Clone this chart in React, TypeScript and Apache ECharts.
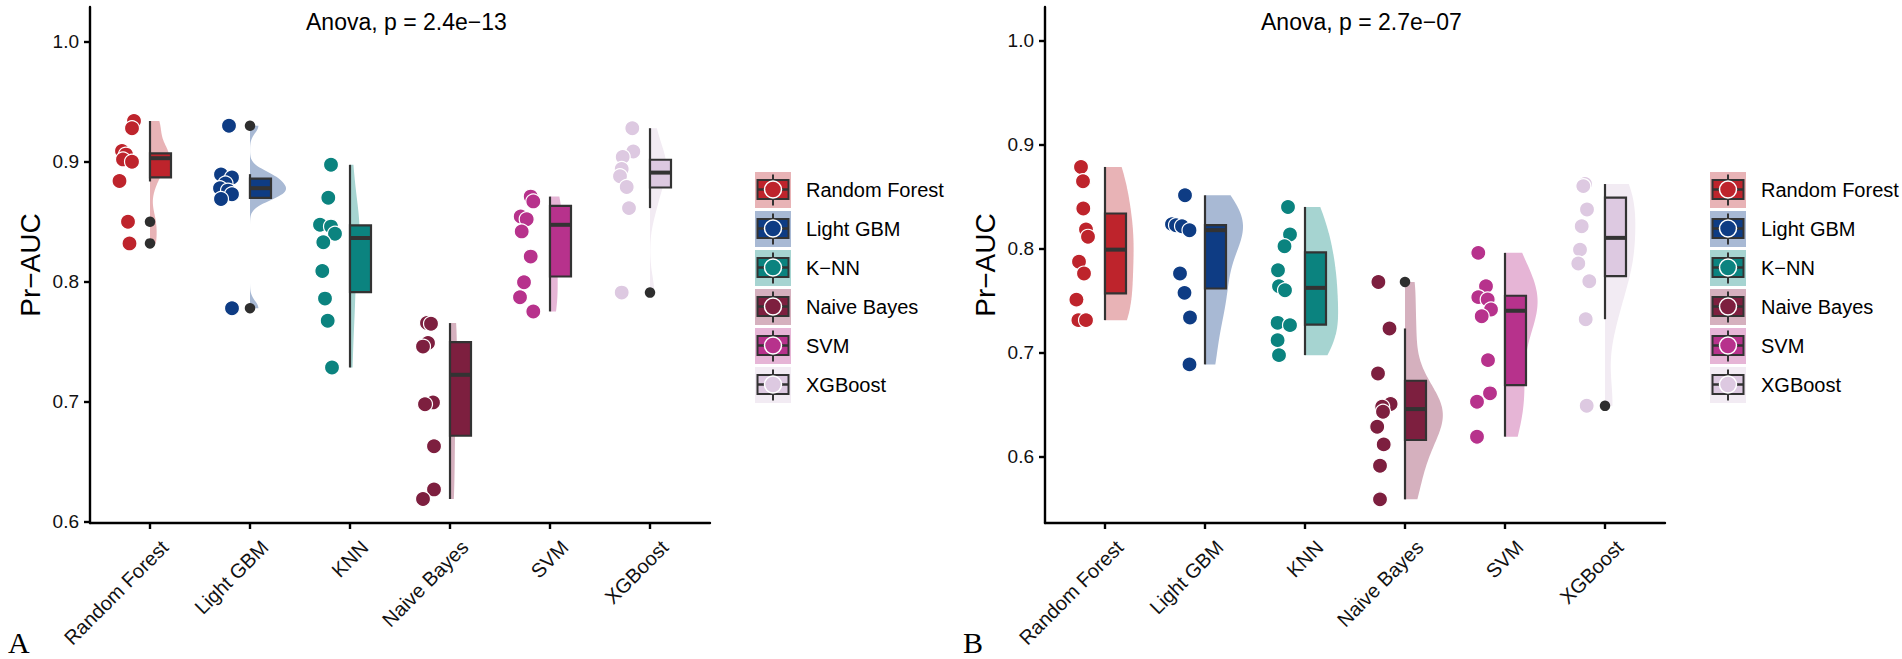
import { useEffect, useRef } from 'react';
import * as echarts from 'echarts';

const FONT = "'Liberation Sans', Arial, Helvetica, sans-serif";
const SERIF = "'Liberation Serif', 'Times New Roman', serif";

const categories = ['Random Forest', 'Light GBM', 'KNN', 'Naive Bayes', 'SVM', 'XGBoost'];
const legendNames = ['Random Forest', 'Light GBM', 'K−NN', 'Naive Bayes', 'SVM', 'XGBoost'];
const pointColors = ['#BE242C', '#0E3C84', '#0B837F', '#7D1F3F', '#B7328C', '#DDC9E1'];
const violinColors = ['#E8B3B6', '#A8B9D4', '#A6D4D1', '#D5B0BE', '#E6B5D6', '#F2EBF3'];
const xTicks = [1, 2, 3, 4, 5, 6];
const yTicks = [0.6, 0.7, 0.8, 0.9, 1.0];
const anovaLabels = ['Anova, p = 2.4e−13', 'Anova, p = 2.7e−07'];
const panelLetters = ['A', 'B'];

// points: [Pr-AUC, horizontal jitter in category units]
// panel A
const rfA = [[0.934, -0.16], [0.928, -0.18], [0.909, -0.28], [0.906, -0.24], [0.902, -0.27], [0.9, -0.18], [0.884, -0.305], [0.85, -0.22], [0.832, -0.205]];
const lgbmA = [[0.93, -0.21], [0.8895, -0.29], [0.887, -0.18], [0.882, -0.245], [0.878, -0.3], [0.876, -0.22], [0.873, -0.18], [0.869, -0.29], [0.778, -0.18]];
const knnA = [[0.8975, -0.19], [0.87, -0.217], [0.8475, -0.3], [0.846, -0.19], [0.84, -0.15], [0.833, -0.267], [0.809, -0.277], [0.786, -0.25], [0.7675, -0.223], [0.7286, -0.18]];
const nbA = [[0.7656, -0.23], [0.765, -0.19], [0.749, -0.22], [0.746, -0.27], [0.6995, -0.17], [0.698, -0.25], [0.663, -0.16], [0.627, -0.16], [0.619, -0.27]];
const svmA = [[0.871, -0.193], [0.867, -0.167], [0.8544, -0.293], [0.8522, -0.233], [0.842, -0.283], [0.821, -0.193], [0.7997, -0.26], [0.7872, -0.3], [0.7753, -0.167]];
const xgbA = [[0.928, -0.177], [0.9086, -0.167], [0.904, -0.273], [0.894, -0.283], [0.888, -0.3], [0.879, -0.233], [0.8614, -0.21], [0.791, -0.283]];

// panel B
const rfB = [[0.8784, -0.24], [0.8647, -0.22], [0.8385, -0.217], [0.8183, -0.19], [0.8113, -0.17], [0.7873, -0.26], [0.776, -0.21], [0.751, -0.286], [0.7313, -0.266], [0.7313, -0.19]];
const lgbmB = [[0.8512, -0.2], [0.8235, -0.33], [0.8225, -0.29], [0.8215, -0.23], [0.8177, -0.155], [0.776, -0.25], [0.7575, -0.205], [0.7339, -0.15], [0.6888, -0.155]];
const knnB = [[0.84, -0.17], [0.8135, -0.15], [0.8023, -0.205], [0.7793, -0.27], [0.7639, -0.26], [0.76, -0.2], [0.7287, -0.274], [0.7265, -0.15], [0.7121, -0.274], [0.6977, -0.26]];
const nbB = [[0.768, -0.266], [0.7233, -0.155], [0.68, -0.27], [0.6507, -0.144], [0.6481, -0.228], [0.6433, -0.22], [0.6289, -0.278], [0.612, -0.213], [0.5915, -0.25], [0.5592, -0.25]];
const svmB = [[0.7959, -0.267], [0.7639, -0.19], [0.7534, -0.267], [0.7511, -0.173], [0.7415, -0.14], [0.735, -0.233], [0.6929, -0.17], [0.661, -0.15], [0.653, -0.28], [0.6194, -0.28]];
const xgbB = [[0.862, -0.2], [0.86, -0.217], [0.8375, -0.18], [0.8215, -0.233], [0.799, -0.25], [0.7857, -0.267], [0.7687, -0.157], [0.7322, -0.193], [0.649, -0.183]];

// box stats: [lower whisker, Q1, median, Q3, upper whisker]
const boxesA = [
  [0.8836, 0.887, 0.903, 0.907, 0.934],
  [0.869, 0.87, 0.878, 0.886, 0.8897],
  [0.7286, 0.7914, 0.8365, 0.8471, 0.8975],
  [0.619, 0.6717, 0.7225, 0.7497, 0.7656],
  [0.7753, 0.8044, 0.8475, 0.8633, 0.871],
  [0.8614, 0.8786, 0.891, 0.9017, 0.928],
];
const boxesB = [
  [0.7313, 0.757, 0.799, 0.8337, 0.8784],
  [0.6888, 0.7617, 0.8177, 0.8225, 0.8512],
  [0.6977, 0.727, 0.7623, 0.7963, 0.84],
  [0.5592, 0.6162, 0.6459, 0.6731, 0.7233],
  [0.6194, 0.6689, 0.7403, 0.7547, 0.7959],
  [0.7322, 0.7735, 0.8103, 0.849, 0.862],
];

const panels = [
  { points: [rfA, lgbmA, knnA, nbA, svmA, xgbA], boxes: boxesA, yMin: 0.599, yMax: 1.029, violinMax: 0.36 },
  { points: [rfB, lgbmB, knnB, nbB, svmB, xgbB], boxes: boxesB, yMin: 0.5365, yMax: 1.032, violinMax: 0.38 },
];

const PANEL_SHIFT = 955;
const BOX_W = 0.21;
const LINE = '#333333';

function quantile(sorted: number[], p: number) {
  const h = (sorted.length - 1) * p;
  const lo = Math.floor(h);
  const hi = Math.min(lo + 1, sorted.length - 1);
  return sorted[lo] + (h - lo) * (sorted[hi] - sorted[lo]);
}

// gaussian kde, bw.nrd0, trimmed to the data range
function density(values: number[]) {
  const v = [...values].sort((a, b) => a - b);
  const n = v.length;
  const mean = v.reduce((s, x) => s + x, 0) / n;
  const sd = Math.sqrt(v.reduce((s, x) => s + (x - mean) ** 2, 0) / (n - 1));
  const iqr = quantile(v, 0.75) - quantile(v, 0.25);
  const bw = 0.9 * Math.min(sd, iqr / 1.34) * Math.pow(n, -0.2);
  const out: number[][] = [];
  const steps = 150;
  for (let s = 0; s <= steps; s++) {
    const y = v[0] + ((v[n - 1] - v[0]) * s) / steps;
    let d = 0;
    for (const x of v) {
      const z = (y - x) / bw;
      d += Math.exp(-0.5 * z * z);
    }
    out.push([y, d / (n * bw * Math.sqrt(2 * Math.PI))]);
  }
  return out;
}

function legendIcon(i: number) {
  const svg =
    `<svg xmlns="http://www.w3.org/2000/svg" width="46" height="36" viewBox="0 0 46 36">` +
    `<rect x="0" y="0" width="36" height="36" fill="${violinColors[i]}"/>` +
    `<line x1="18" y1="2.5" x2="18" y2="33.5" stroke="${LINE}" stroke-width="2"/>` +
    `<rect x="2.5" y="8" width="31" height="19" fill="${pointColors[i]}" stroke="${LINE}" stroke-width="2"/>` +
    `<line x1="2.5" y1="17.5" x2="33.5" y2="17.5" stroke="${LINE}" stroke-width="2.5"/>` +
    `<circle cx="18" cy="17.5" r="8.5" fill="${pointColors[i]}" stroke="#ffffff" stroke-width="1.5"/>` +
    `</svg>`;
  return 'image://data:image/svg+xml;charset=utf-8,' + encodeURIComponent(svg);
}

function buildOption(): echarts.EChartsOption {
  const grid: any[] = [];
  const xAxis: any[] = [];
  const yAxis: any[] = [];
  const series: any[] = [];
  const legend: any[] = [];
  const graphic: any[] = [];

  panels.forEach((p, k) => {
    const dx = k * PANEL_SHIFT;
    grid.push({ left: 90 + dx, top: 7, width: 620, height: 516 });

    xAxis.push({
      type: 'value',
      gridIndex: k,
      min: 0.4,
      max: 6.6,
      splitLine: { show: false },
      axisLine: { lineStyle: { color: '#000', width: 2.4 } },
      axisTick: { customValues: xTicks, length: 6, lineStyle: { color: '#000', width: 2.4 } },
      axisLabel: {
        customValues: xTicks,
        formatter: (v: number) => categories[Math.round(v) - 1] ?? '',
        rotate: 45,
        align: 'right',
        verticalAlign: 'top',
        margin: 6,
        padding: [11, 0, 0, 0],
        fontSize: 20,
        color: '#111',
        fontFamily: FONT,
      },
    });

    yAxis.push({
      type: 'value',
      gridIndex: k,
      min: p.yMin,
      max: p.yMax,
      name: 'Pr−AUC',
      nameLocation: 'middle',
      nameRotate: 90,
      nameGap: 46,
      nameTextStyle: { fontSize: 28, color: '#000', fontFamily: FONT },
      splitLine: { show: false },
      axisLine: { show: true, lineStyle: { color: '#000', width: 2.4 } },
      axisTick: { show: true, customValues: yTicks, length: 6, lineStyle: { color: '#000', width: 2.4 } },
      axisLabel: {
        customValues: yTicks,
        formatter: (v: number) => v.toFixed(1),
        margin: 11,
        fontSize: 19,
        color: '#111',
        fontFamily: FONT,
      },
    });

    const curves = p.points.map(pts => density(pts.map(q => q[0])));
    const maxD = Math.max(...curves.map(c => Math.max(...c.map(q => q[1]))));

    series.push({
      type: 'custom',
      name: 'violin',
      xAxisIndex: k,
      yAxisIndex: k,
      silent: true,
      data: p.boxes.map((b, i) => [i + 1, b[2]]),
      renderItem: (params: any, api: any) => {
        const i = params.dataIndex;
        const c = curves[i];
        const pts = c.map(([y, d]) => api.coord([i + 1 + (d / maxD) * p.violinMax, y]));
        pts.push(api.coord([i + 1, c[c.length - 1][0]]));
        pts.push(api.coord([i + 1, c[0][0]]));
        return { type: 'polygon', shape: { points: pts }, style: { fill: violinColors[i] } };
      },
    });

    series.push({
      type: 'custom',
      name: 'box',
      xAxisIndex: k,
      yAxisIndex: k,
      silent: true,
      data: p.boxes.map((b, i) => [i + 1, ...b]),
      renderItem: (params: any, api: any) => {
        const i = params.dataIndex;
        const [lo, q1, md, q3, hi] = p.boxes[i];
        const x = i + 1;
        const top = api.coord([x, hi]);
        const bot = api.coord([x, lo]);
        const tl = api.coord([x, q3]);
        const br = api.coord([x + BOX_W, q1]);
        const m1 = api.coord([x, md]);
        const m2 = api.coord([x + BOX_W, md]);
        return {
          type: 'group',
          children: [
            { type: 'line', shape: { x1: top[0], y1: top[1], x2: bot[0], y2: bot[1] }, style: { stroke: LINE, lineWidth: 2.2 } },
            {
              type: 'rect',
              shape: { x: tl[0], y: tl[1], width: br[0] - tl[0], height: br[1] - tl[1] },
              style: { fill: pointColors[i], stroke: LINE, lineWidth: 2.2 },
            },
            { type: 'line', shape: { x1: m1[0], y1: m1[1], x2: m2[0], y2: m2[1] }, style: { stroke: LINE, lineWidth: 4 } },
          ],
        };
      },
    });

    p.points.forEach((pts, i) => {
      series.push({
        type: 'scatter',
        name: legendNames[i],
        xAxisIndex: k,
        yAxisIndex: k,
        symbolSize: 15,
        data: pts.map(([v, j]) => [i + 1 + j, v]),
        itemStyle: { color: pointColors[i], borderColor: '#ffffff', borderWidth: 1.2, opacity: 1 },
        emphasis: { disabled: true },
      });
    });

    series.push({
      type: 'scatter',
      name: 'outliers',
      xAxisIndex: k,
      yAxisIndex: k,
      symbolSize: 10.5,
      data: p.points.flatMap((pts, i) =>
        pts
          .filter(([v]) => v < p.boxes[i][0] - 0.001 || v > p.boxes[i][4] + 0.001)
          .map(([v]) => [i + 1, v])
      ),
      itemStyle: { color: '#2E2E2E', opacity: 1 },
      emphasis: { disabled: true },
    });

    legend.push({
      orient: 'vertical',
      left: 750 + dx,
      top: 167,
      itemWidth: 46,
      itemHeight: 36,
      itemGap: 3,
      selectedMode: false,
      data: legendNames.map((n, i) => ({ name: n, icon: legendIcon(i) })),
      textStyle: { fontSize: 20, color: '#000', fontFamily: FONT },
    });

    graphic.push({
      type: 'text',
      x: 306 + dx,
      y: 22,
      style: { text: anovaLabels[k], font: `23px ${FONT}`, fill: '#000', align: 'left', verticalAlign: 'middle' },
    });
    graphic.push({
      type: 'text',
      x: 8 + dx,
      y: 642,
      style: { text: panelLetters[k], font: `30px ${SERIF}`, fill: '#000', align: 'left', verticalAlign: 'middle' },
    });
  });

  return { animation: false, grid, xAxis, yAxis, series, legend, graphic };
}

export default function App() {
  const chartRef = useRef<HTMLDivElement>(null);

  useEffect(() => {
    if (!chartRef.current) return;
    const chart = echarts.init(chartRef.current, undefined, { renderer: 'svg' });
    chart.setOption(buildOption());
    return () => chart.dispose();
  }, []);

  return (
    <div
      ref={chartRef}
      style={{ position: 'absolute', left: 0, top: 0, width: 1902, height: 659, background: '#fff' }}
    />
  );
}
